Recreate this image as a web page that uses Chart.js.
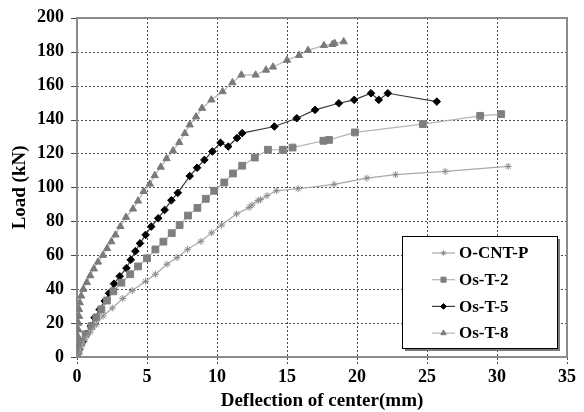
<!DOCTYPE html>
<html>
<head>
<meta charset="utf-8">
<script src="https://cdn.jsdelivr.net/npm/chart.js@4.4.1/dist/chart.umd.min.js"></script>
<style>
  html, body { margin: 0; padding: 0; background: #fff; }
  #wrap { width: 584px; height: 412px; }
</style>
</head>
<body>
<div id="wrap"><canvas id="chart" width="584" height="412"></canvas></div>
<script>
// values (deflection in mm, load in kN)
const SERIES_NAMES = ['O-CNT-P', 'Os-T-2', 'Os-T-5', 'Os-T-8'];

const cntX = [0, 0.15, 0.31, 0.55, 0.96, 1.38, 1.86, 2.52, 3.27, 3.95, 4.9, 5.6, 6.42, 7.15, 7.9, 8.85,
  9.62, 10.33, 11.4, 12.3, 12.5, 12.93, 13.1, 13.57, 14.24, 15.8, 18.36, 20.7, 22.76, 26.3, 30.8];
const cntY = [0, 1.6, 5.9, 10.2, 14.7, 19.2, 24.2, 28.9, 34.5, 39.2, 44.6, 48.8, 54.7, 58.6, 63.5, 68.2,
  73.2, 77.8, 84.4, 88.2, 89.6, 92.2, 92.8, 95.1, 98, 99.2, 101.8, 105.5, 107.5, 109.4, 112.4];

const t2X = [0, 0.1, 0.31, 0.62, 1.03, 1.38, 1.74, 2.14, 2.6, 3.17, 3.8, 4.36, 5.0, 5.6, 6.17, 6.77,
  7.33, 7.93, 8.6, 9.2, 9.8, 10.52, 11.14, 11.8, 12.7, 13.64, 14.7, 15.4, 17.6, 18.0, 19.85, 24.7, 28.8, 30.3];
const t2Y = [0, 3.9, 8.8, 13.4, 18.2, 23.2, 28, 33.3, 38.7, 43.8, 48.8, 53.4, 58.2, 63.4, 68, 73,
  77.8, 83.4, 87.9, 93.3, 98, 102.9, 108.2, 112.8, 117.6, 122.2, 122.2, 123.5, 127.5, 128, 132.4, 137.3, 142.2, 143.2];

const t5X = [0, 0.15, 0.43, 0.67, 0.98, 1.26, 1.62, 1.98, 2.29, 2.64, 3.05, 3.53, 3.84, 4.17, 4.5, 4.9,
  5.3, 5.8, 6.26, 6.74, 7.2, 8.05, 8.58, 9.1, 9.67, 10.25, 10.8, 11.43, 11.8, 14.1, 15.7, 17.0, 18.7,
  19.8, 21.0, 21.55, 22.2, 25.7];
const t5Y = [0, 4.5, 9.2, 13.7, 18.2, 23.2, 28, 33, 37.6, 43.2, 47.6, 52.4, 57.3, 62.4, 67, 72,
  76.9, 81.8, 86.7, 92.4, 96.8, 106.7, 111.6, 116.2, 121.2, 126.3, 124.1, 129.1, 132, 135.9, 140.8, 145.7, 149.6,
  151.6, 155.5, 151.6, 155.5, 150.6];

const t8X = [0, 0.05, 0.05, 0.07, 0.1, 0.1, 0.15, 0.15, 0.2, 0.3, 0.45, 0.7, 0.95, 1.2, 1.5, 1.85,
  2.15, 2.45, 2.75, 3.1, 3.5, 4.0, 4.36, 4.76, 5.2, 5.55, 5.98, 6.4, 6.86, 7.3, 7.7, 8.05,
  8.5, 8.93, 9.6, 10.4, 11.1, 11.74, 12.76, 13.5, 14.0, 15.0, 15.86, 16.5, 17.64, 18.24, 18.4, 19.05];
const t8Y = [0, 5, 8, 12, 16, 20, 24, 28, 32, 36, 40, 44, 48, 52, 56, 60,
  64, 68, 72, 77, 82.4, 87.3, 92, 97.6, 102, 107, 112, 117, 121.6, 126.5, 131.8, 136.9,
  141.6, 146.7, 151.6, 156.5, 161.8, 166.3, 166.3, 169.2, 171, 175, 177.9, 180.8, 183.7, 184.3, 185, 185.9];

const FONT = 'Liberation Serif';

function pairs(xs, ys) {
  return xs.map((x, i) => ({ x, y: ys[i] }));
}

function series(label, xs, ys, style) {
  return {
    label,
    data: pairs(xs, ys),
    showLine: true,
    fill: false,
    tension: 0,
    borderWidth: 1.2,
    pointBorderWidth: 1,
    ...style,
  };
}

const datasets = [
  series(SERIES_NAMES[0], cntX, cntY, {
    borderColor: '#a8a8a8',
    pointStyle: 'star',
    pointRadius: 3.5,
    pointBorderColor: '#8a8a8a',
    pointBackgroundColor: '#8a8a8a',
  }),
  series(SERIES_NAMES[1], t2X, t2Y, {
    borderColor: '#b4b4b4',
    pointStyle: 'rect',
    pointRadius: 4.8,
    pointBorderColor: '#7f7f7f',
    pointBackgroundColor: '#7f7f7f',
  }),
  series(SERIES_NAMES[2], t5X, t5Y, {
    borderColor: '#3a3a3a',
    pointStyle: 'rectRot',
    pointRadius: 3.8,
    pointBorderColor: '#000',
    pointBackgroundColor: '#000',
  }),
  series(SERIES_NAMES[3], t8X, t8Y, {
    borderColor: '#b4b4b4',
    pointStyle: 'triangle',
    pointRadius: 4.2,
    pointBorderColor: '#7a7a7a',
    pointBackgroundColor: '#7a7a7a',
  }),
];

// frame and dotted grid, slid in behind what is already drawn
function drawGridBehind(chart) {
  const { ctx, chartArea: a, scales: { x, y } } = chart;
  const left = Math.round(a.left);
  const right = Math.round(a.right);
  const top = Math.round(a.top);
  const bottom = Math.round(a.bottom);
  ctx.save();
  ctx.globalCompositeOperation = 'destination-over';

  ctx.fillStyle = '#8a8a8a';
  ctx.fillRect(left - 1, top - 1, right - left + 2, 2);
  ctx.fillRect(left - 1, bottom - 1, right - left + 2, 2);
  ctx.fillRect(left - 1, top - 1, 2, bottom - top + 2);
  ctx.fillRect(right - 1, top - 1, 2, bottom - top + 2);

  ctx.fillStyle = '#4a4a4a';
  x.ticks.forEach((t) => {
    const px = Math.round(x.getPixelForValue(t.value));
    for (let yy = top; yy < bottom + 6; yy += 4) ctx.fillRect(px, yy, 1, 2);
  });
  y.ticks.forEach((t) => {
    const py = Math.round(y.getPixelForValue(t.value));
    for (let xx = left; xx < right; xx += 4) ctx.fillRect(xx, py, 2, 1);
    ctx.fillRect(left - 6, py, 6, 1);
  });
  ctx.restore();
}

// boxed legend with drop shadow, inside the lower right of the plot
function drawBoxLegend(chart) {
  const { ctx, chartArea: a } = chart;
  const w = 155;
  const h = 112;
  const x = Math.round(a.right - w - 10);
  const y = Math.round(a.bottom - h - 9);
  ctx.save();
  ctx.fillStyle = '#7a7a7a';
  ctx.fillRect(x + 3, y + 3, w, h);
  ctx.fillStyle = '#fff';
  ctx.fillRect(x, y, w, h);
  ctx.strokeStyle = '#000';
  ctx.lineWidth = 1;
  ctx.strokeRect(x + 0.5, y + 0.5, w, h);

  ctx.font = `bold 17px "${FONT}"`;
  ctx.textBaseline = 'middle';
  chart.data.datasets.forEach((ds, i) => {
    const cy = y + 17 + i * 26.7;
    ctx.strokeStyle = ds.borderColor;
    ctx.lineWidth = ds.borderWidth;
    ctx.beginPath();
    ctx.moveTo(x + 30, cy);
    ctx.lineTo(x + 53, cy);
    ctx.stroke();
    ctx.fillStyle = ds.pointBackgroundColor;
    ctx.strokeStyle = ds.pointBorderColor;
    ctx.lineWidth = 1;
    Chart.helpers.drawPoint(ctx, {
      pointStyle: ds.pointStyle,
      radius: ds.pointRadius * 0.75,
      rotation: 0,
      borderWidth: 1,
    }, x + 41.5, cy);
    ctx.fillStyle = '#000';
    ctx.fillText(ds.label, x + 57, cy + 1);
  });
  ctx.restore();
}

const decorations = {
  id: 'decorations',
  afterDraw(chart) {
    drawGridBehind(chart);
    drawBoxLegend(chart);
  },
};

new Chart(document.getElementById('chart').getContext('2d'), {
  type: 'scatter',
  data: { datasets },
  options: {
    responsive: false,
    animation: false,
    devicePixelRatio: 1,
    layout: { padding: { top: 17, right: 17, bottom: 0, left: 0 } },
    plugins: {
      legend: { display: false },
      tooltip: { enabled: false },
    },
    scales: {
      x: {
        type: 'linear',
        min: 0,
        max: 35,
        ticks: {
          stepSize: 5,
          color: '#000',
          padding: 4,
          font: { family: FONT, size: 18, weight: 'bold' },
        },
        grid: { display: false, tickLength: 6 },
        border: { display: false },
        title: {
          display: true,
          text: 'Deflection of center(mm)',
          color: '#000',
          padding: 0,
          font: { family: FONT, size: 19, weight: 'bold' },
        },
        afterFit(scale) { scale.height = 55; },
      },
      y: {
        type: 'linear',
        min: 0,
        max: 200,
        ticks: {
          stepSize: 20,
          color: '#000',
          padding: 7,
          font: { family: FONT, size: 18, weight: 'bold' },
        },
        grid: { display: false, tickLength: 6 },
        border: { display: false },
        title: {
          display: true,
          text: 'Load (kN)',
          color: '#000',
          padding: { top: 9, bottom: 0 },
          font: { family: FONT, size: 19, weight: 'bold' },
        },
        afterFit(scale) { scale.width = 77; },
      },
    },
  },
  plugins: [decorations],
});
</script>
</body>
</html>
